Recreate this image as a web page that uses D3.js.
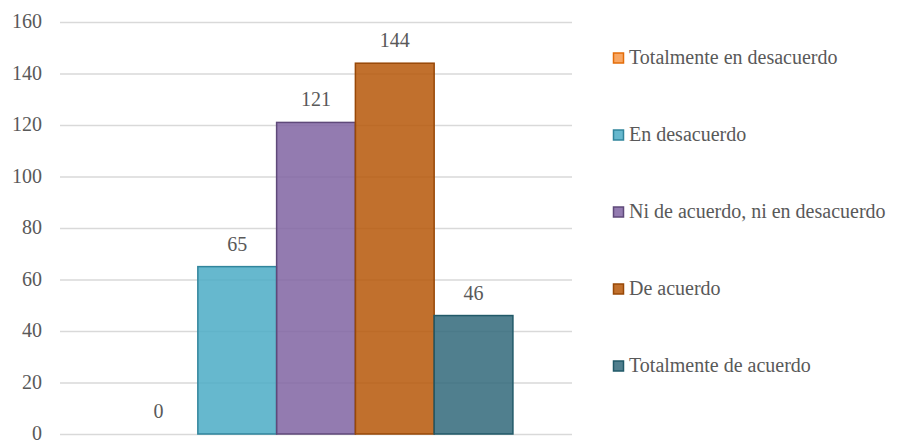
<!DOCTYPE html>
<html>
<head>
<meta charset="utf-8">
<script src="https://cdn.jsdelivr.net/npm/d3@7"></script>
<style>
  @font-face {
    font-family: "ChartSerif";
    src: local("Liberation Serif"), local("LiberationSerif"), local("LiberationSerif-Regular"), local("Times New Roman");
  }
</style>
</head>
<body style="margin:0;background:#fff">
<svg id="chart" width="902" height="444"></svg>
<script>
// Response categories and counts
const categories = ["Totalmente en desacuerdo", "En desacuerdo", "Ni de acuerdo, ni en desacuerdo", "De acuerdo", "Totalmente de acuerdo"];
const values = [0, 65, 121, 144, 46];
const fills = ["#F79646", "#4BACC6", "#8064A2", "#B65708", "#31687A"];
const strokes = ["#E36C09", "#31859C", "#5F497A", "#984807", "#215968"];
const yTicks = [0, 20, 40, 60, 80, 100, 120, 140, 160];

const FS = 20;
const TXT = "#595959";
const FONT = '"Liberation Serif", "ChartSerif", "Times New Roman", serif';

const svg = d3.select("#chart");
const plot = { left: 60, right: 572, top: 22, bottom: 434 };

const y = d3.scaleLinear().domain([0, 160]).range([plot.bottom, plot.top]);

// single group holding one bar per category
const xGroup = d3.scaleBand().domain(["g"]).range([plot.left, plot.right]).paddingOuter(0.15).paddingInner(0);
const x = d3.scaleBand().domain(categories).range([xGroup("g"), xGroup("g") + xGroup.bandwidth()]).padding(0);

function styleText(sel) {
  sel.attr("font-size", FS)
    .style("font-family", FONT)
    .style("fill", TXT);
}

// gridlines
const yAxis = d3.axisLeft(y).tickValues(yTicks).tickSize(-(plot.right - plot.left)).tickFormat("");
const ga = svg.append("g").attr("transform", `translate(${plot.left},0)`).call(yAxis);
ga.select(".domain").remove();
ga.selectAll(".tick line").attr("stroke", "#D9D9D9").attr("stroke-width", 1.3);
ga.selectAll(".tick text").remove();

// tick labels
svg.append("g").selectAll("text").data(yTicks).join("text")
  .attr("x", plot.left - 18)
  .attr("y", d => y(d))
  .attr("dy", "0.32em")
  .attr("text-anchor", "end")
  .call(styleText)
  .text(d => d);

// bars
svg.append("g").selectAll("rect").data(categories).join("rect")
  .attr("x", d => x(d))
  .attr("y", (d, i) => y(values[i]))
  .attr("width", x.bandwidth())
  .attr("height", (d, i) => y(0) - y(values[i]))
  .attr("fill", (d, i) => fills[i])
  .attr("fill-opacity", 0.85)
  .attr("stroke", (d, i) => strokes[i])
  .attr("stroke-width", 1.5);

// value labels
svg.append("g").selectAll("text").data(categories).join("text")
  .attr("x", d => x(d) + x.bandwidth() / 2)
  .attr("y", (d, i) => y(values[i]) - 16)
  .attr("text-anchor", "middle")
  .call(styleText)
  .text((d, i) => values[i]);

// legend
const legend = svg.append("g").attr("transform", "translate(613,0)");
const rows = legend.selectAll("g").data(categories).join("g")
  .attr("transform", (d, i) => `translate(0,${58 + i * 77})`);
rows.append("rect")
  .attr("x", 0.5).attr("y", -5).attr("width", 10).attr("height", 10)
  .attr("fill", (d, i) => fills[i]).attr("fill-opacity", 0.85)
  .attr("stroke", (d, i) => strokes[i]).attr("stroke-width", 1.5);
rows.append("text")
  .attr("x", 16).attr("y", 6)
  .call(styleText)
  .text(d => d);
</script>
</body>
</html>
